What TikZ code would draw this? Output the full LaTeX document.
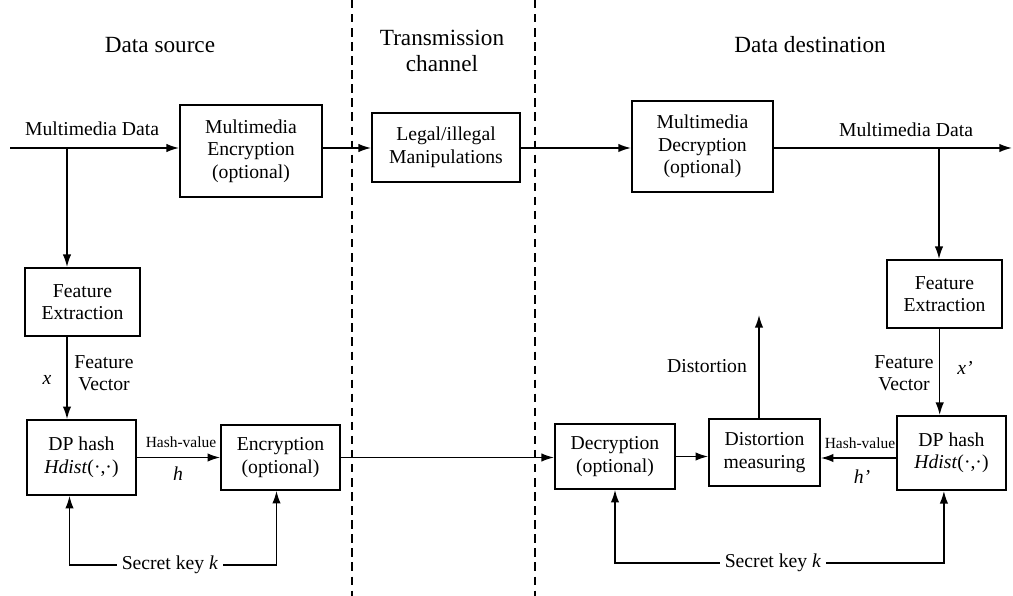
\documentclass[tikz,border=0pt]{standalone}
\usepackage{fontspec}
\setmainfont{Liberation Serif}
\usepackage{tikz}
\usetikzlibrary{positioning,arrows.meta}

\begin{document}
\begin{tikzpicture}[x=0.025cm, y=-0.025cm, >={Latex[length=9pt,width=6pt]},
  every node/.style={font=\fontsize{14}{16}\selectfont},
  box/.style={draw, line width=1.3pt, align=center, inner sep=2pt},
  flow/.style={->, line width=1.1pt},
  head/.style={font=\fontsize{16.5}{19}\selectfont, align=center},
  small/.style={font=\fontsize{11}{13}\selectfont}]
  \useasboundingbox (0,0) rectangle (1013,596);

  % Zones
  \draw[dash pattern=on 6pt off 4pt, line width=1pt] (352,0) -- (352,596);
  \draw[dash pattern=on 6pt off 4pt, line width=1pt] (535,0) -- (535,596);
  \node[head] (srcT) at (160,45) {Data source};
  \node[head] (chT) at (442,51) {Transmission\\channel};
  \node[head] (dstT) at (810,45) {Data destination};

  % Top row
  \node[box, minimum width=3.55cm, minimum height=2.3cm] (encM) at (251,151)
    {Multimedia\\Encryption\\(optional)};
  \node[box, minimum width=3.7cm, minimum height=1.72cm] (legal) at (446,147.5)
    {Legal/illegal\\Manipulations};
  \node[box, minimum width=3.53cm, minimum height=2.28cm] (decM) at (702.5,146.5)
    {Multimedia\\Decryption\\(optional)};
  \coordinate (inL) at (10,148);
  \coordinate (outR) at (1012,148);
  \coordinate (brL) at (67,148);
  \coordinate (brR) at (939,148);
  \node (mdL) at (92,129) {Multimedia Data};
  \node (mdR) at (906,130) {Multimedia Data};

  \draw[flow] (inL) -- (encM.west |- inL);
  \draw[flow] (encM.east |- inL) -- (legal.west |- inL);
  \draw[flow] (legal.east |- inL) -- (decM.west |- inL);
  \draw[flow] (decM.east |- inL) -- (outR);

  % Data source side
  \node[box, minimum width=2.87cm, minimum height=1.7cm] (feL) at (82.5,302)
    {Feature\\Extraction};
  \node[box, minimum width=2.72cm, minimum height=1.87cm] (dpL) at (81.5,457.5)
    {DP hash\\\textit{Hdist}(·,·)};
  \node[box, minimum width=2.97cm, minimum height=1.62cm] (encL) at (280.5,457.5)
    {Encryption\\(optional)};
  \node[align=center] (fvL) at (104,373) {Feature\\Vector};
  \node (xL) at (47,380) {\textit{x}};
  \node[small] (hvL) at (181,442) {Hash-value};
  \node (hL) at (178,474) {\textit{h}};
  \node (keyL) at (170,565) {Secret key \textit{k}};

  \draw[flow] (brL) -- (brL |- feL.north);
  \draw[flow] (feL.south -| brL) -- (dpL.north -| brL);
  \draw[flow] (dpL.east) -- (encL.west);
  \draw[flow] (keyL.west) -| ([xshift=-0.3cm]dpL.south);
  \draw[flow] (keyL.east) -| ([xshift=-0.1cm]encL.south);

  % Data destination side
  \node[box, minimum width=2.87cm, minimum height=1.7cm] (feR) at (944.5,294)
    {Feature\\Extraction};
  \node[box, minimum width=2.72cm, minimum height=1.85cm] (dpR) at (951.5,453)
    {DP hash\\\textit{Hdist}(·,·)};
  \node[box, minimum width=2.77cm, minimum height=1.67cm] (dm) at (764.5,452.5)
    {Distortion\\measuring};
  \node[box, minimum width=3cm, minimum height=1.62cm] (decR) at (615,456.5)
    {Decryption\\(optional)};
  \node[align=center] (fvR) at (904,373) {Feature\\Vector};
  \node (xR) at (965,368) {\textit{x'}};
  \node[small] (hvR) at (860,443) {Hash-value};
  \node (hR) at (862,477) {\textit{h'}};
  \node (dist) at (707,366) {Distortion};
  \node (keyR) at (773,563) {Secret key \textit{k}};
  \coordinate (distTop) at (759,315);

  \draw[flow] (encL.east) -- (decR.west |- encL.east);
  \draw[flow] (brR) -- (brR |- feR.north);
  \draw[flow] ([xshift=-0.12cm]feR.south) -- ([xshift=-0.12cm]feR.south |- dpR.north);
  \draw[flow] (dpR.west |- 0,458) -- (dm.east |- 0,458);
  \draw[flow] (decR.east) -- (dm.west |- decR.east);
  \draw[flow] (dm.north -| distTop) -- (distTop);
  \draw[flow] (keyR.west) -| (decR.south);
  \draw[flow] (keyR.east) -| ([xshift=-0.19cm]dpR.south);

\end{tikzpicture}
\end{document}
